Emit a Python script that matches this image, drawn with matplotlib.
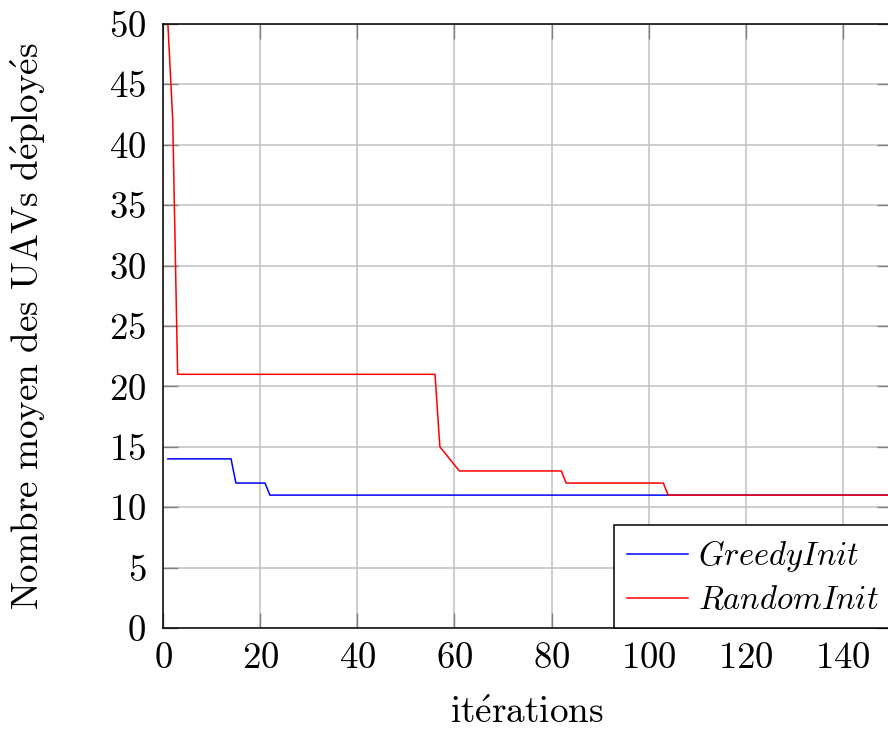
import matplotlib.pyplot as plt

plt.rcParams['font.family'] = ['cmr10', 'DejaVu Serif']
plt.rcParams['mathtext.fontset'] = 'cm'
plt.rcParams['axes.formatter.use_mathtext'] = True

# données (points de rupture des courbes)
greedy_x = [1, 14, 15, 21, 22, 150]
greedy_y = [14, 14, 12, 12, 11, 11]
random_x = [1, 2, 3, 56, 57, 61, 82, 83, 103, 104, 150]
random_y = [50, 42, 21, 21, 15, 13, 13, 12, 12, 11, 11]

fig = plt.figure(figsize=(8.88, 7.31), dpi=100)
ax = fig.add_axes([0.1836, 0.1409, 0.8204, 0.8263])

ax.plot(greedy_x, greedy_y, color='blue', lw=1.1, label='$GreedyInit$')
ax.plot(random_x, random_y, color='red', lw=1.1, label='$RandomInit$')

ax.set_xlim(0, 150)
ax.set_ylim(0, 50)
ax.set_xticks(range(0, 141, 20))
ax.set_yticks(range(0, 51, 5))
ax.grid(True, color='#c0c0c0', lw=1.1)
ax.set_axisbelow(True)
ax.tick_params(direction='in', length=11, width=1, color='#808080',
               top=True, right=True, labelsize=26.5)
ax.tick_params(axis='y', pad=12)
ax.tick_params(axis='x', pad=10)
for s in ax.spines.values():
    s.set_linewidth(1.1)

ax.set_xlabel(r'$\mathrm{it\acute{e}rations}$', fontsize=26.8)
ax.set_ylabel(r'$\mathrm{Nombre\ moyen\ des\ UAVs\ d\acute{e}ploy\acute{e}s}$',
              fontsize=26.8)
ax.xaxis.set_label_coords(0.5, -0.113)
ax.yaxis.set_label_coords(-0.1585, 0.5)

leg = ax.legend(loc='lower right', fontsize=23.5, fancybox=False,
                edgecolor='black', framealpha=1, borderaxespad=0,
                handlelength=1.85, handletextpad=0.3, labelspacing=0.35,
                borderpad=0.4)
leg.get_frame().set_linewidth(1.1)

fig.savefig('out.png', dpi=100)
